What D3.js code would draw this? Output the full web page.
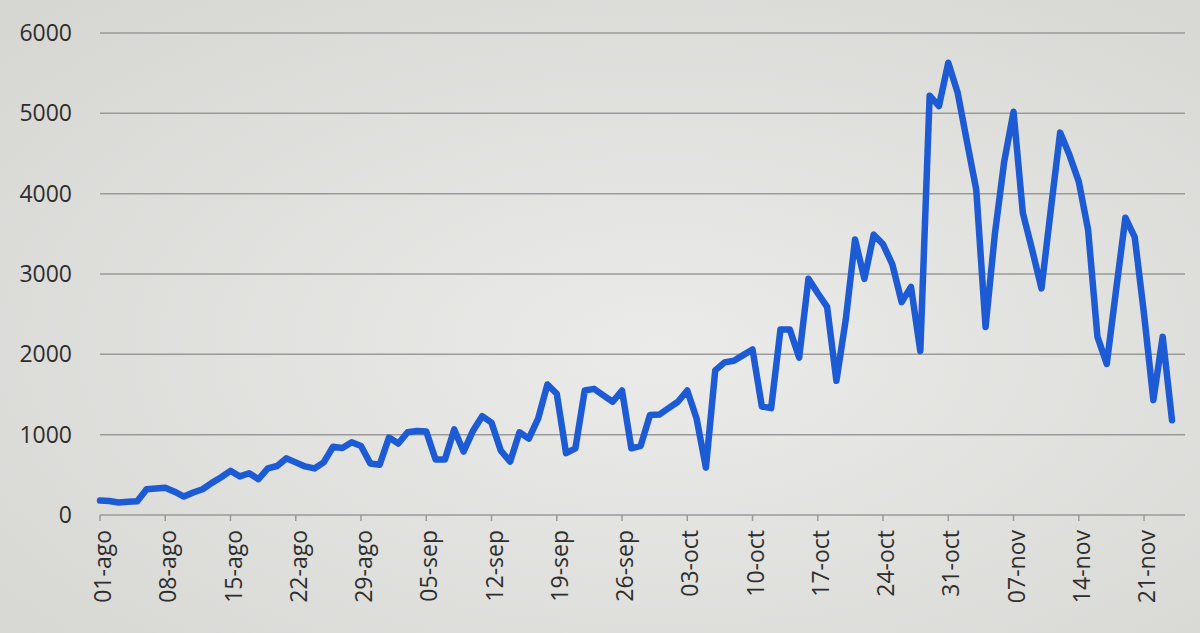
<!DOCTYPE html>
<html lang="es">
<head>
<meta charset="UTF-8">
<title>Casos diarios</title>
<script src="https://d3js.org/d3.v7.min.js"></script>
<style>
    body {
        margin: 0;
        padding: 0;
        background-color: #e0e0de;
        font-family: "Open Sans", "DejaVu Sans", sans-serif;
    }
    #chart svg {
        display: block;
    }
</style>
</head>
<body>
<div id="chart"></div>
<script>
    // first day of the series, one value per day after it
    const startDate = "2020-08-01";

    const dailyCases = [
        180, 175, 155, 165, 170, 320, 330, 340, 290, 230,
        280, 320, 400, 470, 550, 480, 520, 445, 580, 610,
        705, 655, 605, 580, 655, 850, 835, 905, 860, 640,
        625, 965, 890, 1030, 1045, 1040, 690, 690, 1065, 790,
        1045, 1230, 1150, 800, 665, 1030, 950, 1200, 1625, 1510,
        770, 830, 1550, 1570, 1490, 1410, 1550, 830, 860, 1245,
        1250, 1330, 1410, 1550, 1200, 590, 1800, 1900, 1920, 1990,
        2060, 1350, 1330, 2310, 2310, 1960, 2940, 2760, 2590, 1670,
        2430, 3430, 2940, 3490, 3370, 3120, 2650, 2840, 2040, 5220,
        5090, 5630, 5260, 4650, 4050, 2340, 3500, 4400, 5020, 3760,
        3300, 2820, 3800, 4760, 4480, 4150, 3550, 2220, 1880, 2800,
        3700, 3460, 2500, 1430, 2220, 1180
    ];

    const yTicks = [0, 1000, 2000, 3000, 4000, 5000, 6000];

    const xTickDates = [
        "2020-08-01", "2020-08-08", "2020-08-15", "2020-08-22", "2020-08-29",
        "2020-09-05", "2020-09-12", "2020-09-19", "2020-09-26",
        "2020-10-03", "2020-10-10", "2020-10-17", "2020-10-24", "2020-10-31",
        "2020-11-07", "2020-11-14", "2020-11-21"
    ];

    const monthNames = ["ene", "feb", "mar", "abr", "may", "jun",
                        "jul", "ago", "sep", "oct", "nov", "dic"];

    const width = 1200, height = 633;
    const plotLeft = 100, plotRight = 1185, plotTop = 33, plotBottom = 515;

    const parse = d3.utcParse("%Y-%m-%d");
    const t0 = parse(startDate);
    const data = dailyCases.map((v, i) => ({ date: d3.utcDay.offset(t0, i), value: v }));

    const x = d3.scaleUtc()
        .domain([t0, data[data.length - 1].date])
        .range([plotLeft, 1172]);

    const y = d3.scaleLinear()
        .domain([0, 6000])
        .range([plotBottom, plotTop]);

    const svg = d3.select("#chart")
        .append("svg")
        .attr("width", width)
        .attr("height", height);

    // the photo of the screen is a bit darker towards the corners
    const grad = svg.append("defs").append("radialGradient")
        .attr("id", "bg")
        .attr("cx", "55%").attr("cy", "55%").attr("r", "75%");
    grad.append("stop").attr("offset", "0%").attr("stop-color", "#ebebe9");
    grad.append("stop").attr("offset", "100%").attr("stop-color", "#d6d6d3");

    svg.append("rect")
        .attr("width", width)
        .attr("height", height)
        .attr("fill", "url(#bg)");

    // horizontal gridlines
    svg.append("g")
        .selectAll("line")
        .data(yTicks)
        .enter().append("line")
        .attr("x1", plotLeft)
        .attr("x2", plotRight)
        .attr("y1", d => y(d))
        .attr("y2", d => y(d))
        .attr("stroke", "#9a9a9a")
        .attr("stroke-width", 1.5);

    // y labels
    svg.append("g")
        .selectAll("text")
        .data(yTicks)
        .enter().append("text")
        .attr("x", 72)
        .attr("y", d => y(d))
        .attr("dy", "0.35em")
        .attr("text-anchor", "end")
        .attr("font-size", "23px")
        .attr("fill", "#2e2e2e")
        .text(d => d);

    // x labels, rotated
    const fmt = d => d3.utcFormat("%d")(d) + "-" + monthNames[d.getUTCMonth()];
    svg.append("g")
        .selectAll("text")
        .data(xTickDates.map(parse))
        .enter().append("text")
        .attr("transform", d => `translate(${x(d) + 3},530) rotate(-90)`)
        .attr("dy", "0.35em")
        .attr("text-anchor", "end")
        .attr("font-size", "23px")
        .attr("fill", "#2e2e2e")
        .text(fmt);

    // small tick marks under the axis
    svg.append("g")
        .selectAll("line")
        .data(xTickDates.map(parse))
        .enter().append("line")
        .attr("x1", d => x(d))
        .attr("x2", d => x(d))
        .attr("y1", plotBottom)
        .attr("y2", plotBottom + 6)
        .attr("stroke", "#9a9a9a")
        .attr("stroke-width", 1.5);

    const line = d3.line()
        .x(d => x(d.date))
        .y(d => y(d.value));

    svg.append("path")
        .datum(data)
        .attr("d", line)
        .attr("fill", "none")
        .attr("stroke", "#1d5bd4")
        .attr("stroke-width", 6.5)
        .attr("stroke-linejoin", "round")
        .attr("stroke-linecap", "round");
</script>
</body>
</html>
